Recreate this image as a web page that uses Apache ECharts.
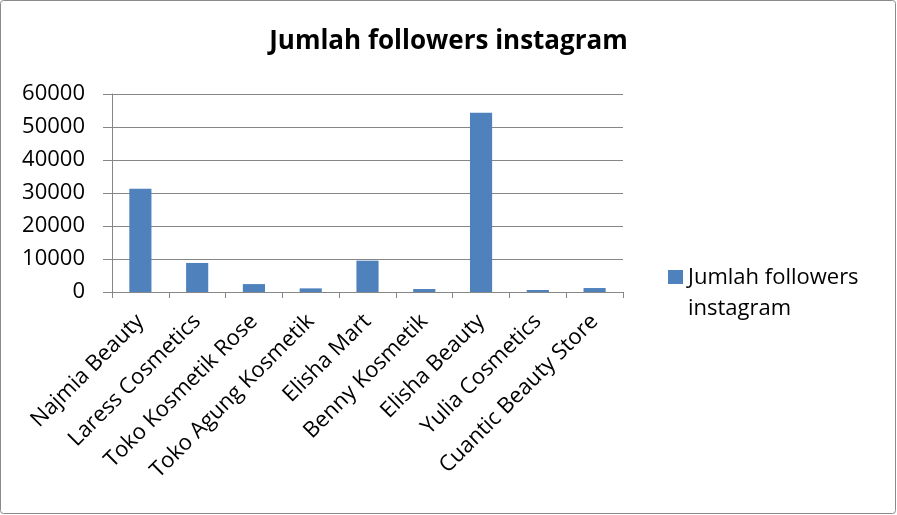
<!DOCTYPE html>
<html><head><meta charset="utf-8">
<script src="https://cdn.jsdelivr.net/npm/echarts@6/dist/echarts.min.js"></script>
<style>html,body{margin:0;padding:0;background:#fff}#c{width:897px;height:515px}</style>
</head><body><div id="c"></div>
<script>
const categories = ['Najmia Beauty','Laress Cosmetics','Toko Kosmetik Rose','Toko Agung Kosmetik','Elisha Mart','Benny Kosmetik','Elisha Beauty','Yulia Cosmetics','Cuantic Beauty Store'];
const followers = [31300, 8800, 2400, 1100, 9500, 900, 54300, 600, 1200];
const seriesName = 'Jumlah followers instagram';
const yTicks = {min: 0, max: 60000, interval: 10000};

const font = '"Open Sans", "Noto Sans", sans-serif';
const chart = echarts.init(document.getElementById('c'));
chart.setOption({
  animation: false,
  title: {text: 'Jumlah followers instagram', left: 'center', top: 24, textStyle: {fontFamily: font, fontSize: 26, fontWeight: 'bold', color: '#000'}},
  graphic: [{type: 'rect', shape: {x: 0.5, y: 0.5, width: 895, height: 513, r: 3}, style: {fill: 'none', stroke: '#8a8a8a', lineWidth: 1}}],
  grid: {left: 112, right: 274, top: 94, bottom: 223, containLabel: false},
  legend: {
    data: [seriesName], left: 663, top: 257, orient: 'vertical', symbolKeepAspect: false,
    icon: 'path://M0,0L14,0L14,14L0,14Z M0,46L0.01,46', itemWidth: 15, itemHeight: 46, itemGap: 6,
    formatter: 'Jumlah followers\ninstagram',
    textStyle: {fontFamily: font, fontSize: 22, color: '#000', lineHeight: 31}
  },
  xAxis: {
    type: 'category', data: categories,
    axisLine: {lineStyle: {color: '#868686'}},
    axisTick: {show: true, length: 6, lineStyle: {color: '#868686'}},
    axisLabel: {rotate: 45, interval: 0, fontFamily: font, fontSize: 22, color: '#000', margin: 26}
  },
  yAxis: {
    type: 'value', min: yTicks.min, max: yTicks.max, interval: yTicks.interval,
    axisLine: {show: true, lineStyle: {color: '#868686'}},
    axisTick: {show: true, length: 9, lineStyle: {color: '#868686'}},
    splitLine: {lineStyle: {color: '#868686'}},
    axisLabel: {fontFamily: font, fontSize: 22, color: '#000', margin: 27, formatter: v => String(v)}
  },
  series: [{name: seriesName, type: 'bar', data: followers, barWidth: '39%', itemStyle: {color: '#4F81BD'}}]
});
</script></body></html>
